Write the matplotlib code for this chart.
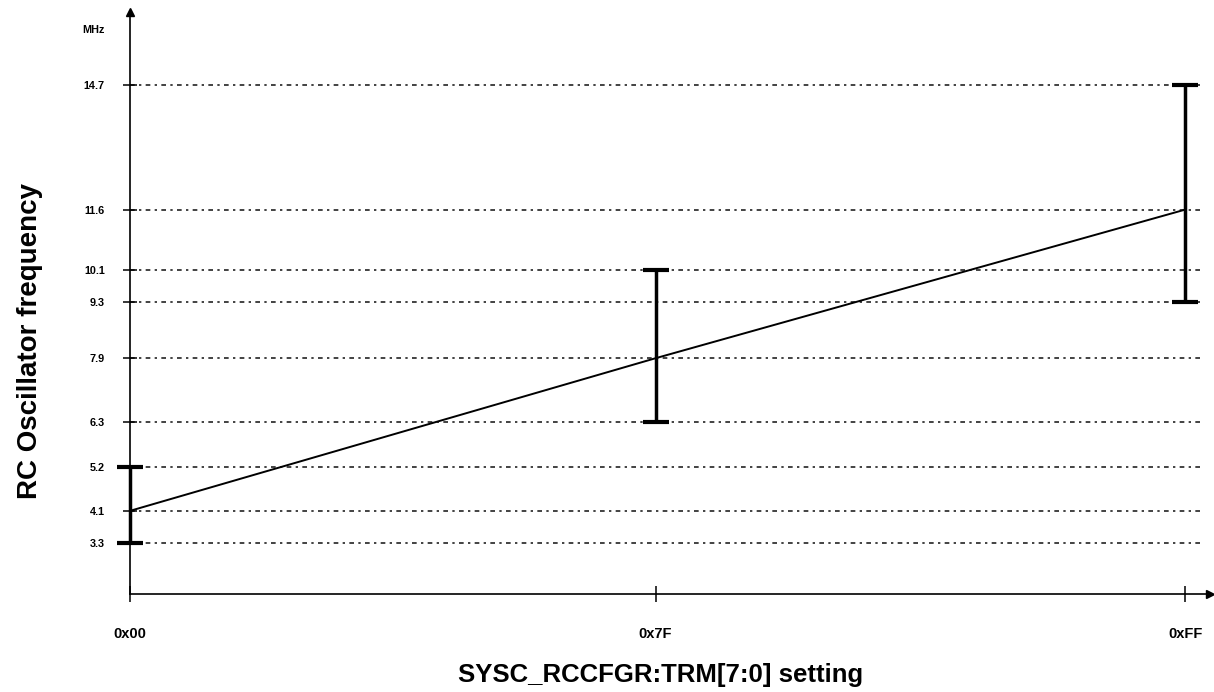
import numpy as np
import matplotlib.pyplot as plt

plt.rcParams['font.family'] = ['Liberation Sans', 'DejaVu Sans']

# trim settings and measured oscillator frequency (MHz)
trimCodes = [0, 127, 255]
trimLabels = ['0x00', '0x7F', '0xFF']
freqTyp = [4.1, 7.9, 11.6]
freqMin = [3.3, 6.3, 9.3]
freqMax = [5.2, 10.1, 14.7]

yTicks = sorted(set(freqTyp + freqMin + freqMax))

fig = plt.figure(figsize=(12.14, 6.92), dpi=100)
ax = fig.add_axes([130/1214, 1 - 594/692, 1080/1214, (594 - 12)/692])

# dash-dot reference lines at every tick value
ax.hlines(yTicks, 0, 258.5, colors='#222222', linewidth=1.2,
          linestyles=[(0, (2.8, 2.6, 1.4, 2.6))], zorder=1)

# typical frequency line
ax.plot(trimCodes, freqTyp, color='black', linewidth=1.4, zorder=3)

# min / max error bars
yerr = [np.array(freqTyp) - np.array(freqMin), np.array(freqMax) - np.array(freqTyp)]
ax.errorbar(trimCodes, freqTyp, yerr=yerr, fmt='none', ecolor='black',
            elinewidth=2.5, capsize=9.5, capthick=3.0, zorder=4, clip_on=False)

ax.set_xlim(0, 261)
ax.set_ylim(2.03, 16.52)

for s in ['top', 'right']:
    ax.spines[s].set_visible(False)
ax.spines['left'].set_linewidth(1.2)
ax.spines['bottom'].set_linewidth(1.2)

# arrow heads on the axes
ax.plot(0, 1, marker='^', color='black', markersize=6, transform=ax.transAxes, clip_on=False)
ax.plot(1, 0, marker='>', color='black', markersize=6, transform=ax.transAxes, clip_on=False)

ax.set_yticks(yTicks)
ax.set_yticklabels([str(v) for v in yTicks], fontsize=7.8, fontweight='bold')
ax.set_xticks(trimCodes)
ax.set_xticklabels(trimLabels, fontsize=10.5, fontweight='bold')
ax.tick_params(axis='y', direction='inout', length=10, width=1.1, pad=13)
ax.tick_params(axis='x', direction='inout', length=12, width=1.1, pad=18)

ax.text(-25/1080*261, 16.52 - 18/40.2, 'MHz', ha='right', va='center',
        fontsize=7.8, fontweight='bold')

fig.text(30/1214, 1 - 341/692, 'RC Oscillator frequency', rotation=90,
         ha='center', va='center', fontsize=20, fontweight='bold')
fig.text(661/1214, 1 - 675/692, 'SYSC_RCCFGR:TRM[7:0] setting',
         ha='center', va='center', fontsize=18.5, fontweight='bold')

plt.savefig('out.png', dpi=100)
plt.close(fig)
